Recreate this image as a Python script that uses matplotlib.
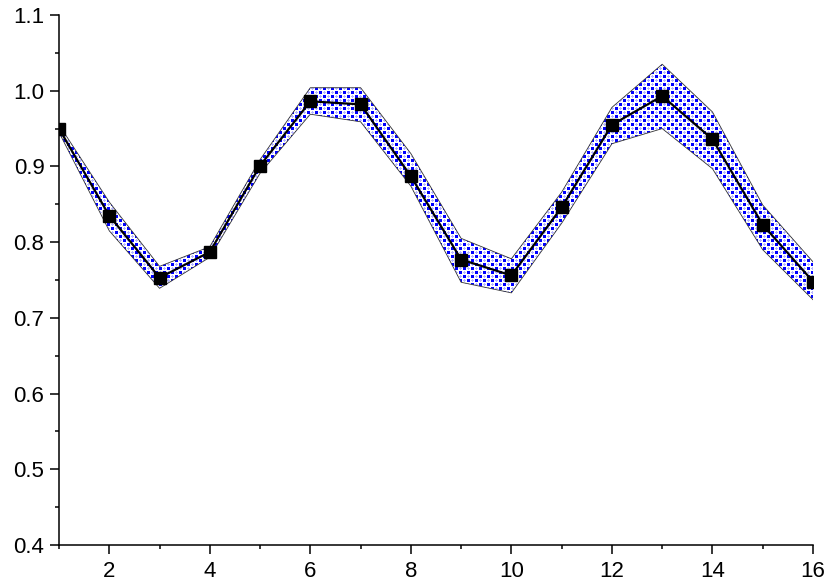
import numpy as np
import matplotlib
matplotlib.use("Agg")
import matplotlib.pyplot as plt
from matplotlib.ticker import MultipleLocator, FormatStrFormatter

plt.rcParams['font.family'] = ['Liberation Sans', 'DejaVu Sans']

# Dane
x = list(range(1, 17))
y = [0.950, 0.835, 0.753, 0.787, 0.901, 0.986, 0.982, 0.887,
     0.777, 0.756, 0.846, 0.955, 0.993, 0.936, 0.823, 0.748]
upper = [0.955, 0.853, 0.768, 0.794, 0.909, 1.004, 1.004, 0.917,
         0.805, 0.778, 0.866, 0.978, 1.035, 0.972, 0.849, 0.774]
lower = [0.945, 0.815, 0.739, 0.780, 0.891, 0.969, 0.959, 0.874,
         0.747, 0.733, 0.825, 0.930, 0.950, 0.897, 0.790, 0.724]

fig = plt.figure(figsize=(8.3, 5.87), dpi=100)
ax = fig.add_axes([0.0711, 0.0716, 0.9084, 0.9028])
ax.set_xlim(1, 16)
ax.set_ylim(0.4, 1.1)

# wzor wypelnienia (niebieskie kwadraty w szachownice + jasne krzyzyki)
W, H = 754, 530
tex = np.ones((H, W, 3))
yy, xx = np.mgrid[0:H, 0:W]
mx, my = xx % 8, yy % 8
blue = ((mx < 3) & (my < 3)) | ((mx >= 4) & (mx < 7) & (my >= 4) & (my < 7))
cx, cy = (xx + 4) % 8, yy % 8
cross = (((cx == 1) & (cy < 3)) | ((cy == 1) & (cx < 3)))
cx2, cy2 = xx % 8, (yy + 4) % 8
cross |= (((cx2 == 1) & (cy2 < 3)) | ((cy2 == 1) & (cx2 < 3)))
tex[cross] = (0.72, 0.72, 1.0)
tex[blue] = (0.0, 0.0, 1.0)

band = ax.fill_between(x, lower, upper, facecolor='none', edgecolor='none', zorder=1)
im = ax.imshow(tex, extent=(1, 16, 0.4, 1.1), aspect='auto',
               interpolation='nearest', zorder=1)
im.set_clip_path(band.get_paths()[0], transform=ax.transData)
ax.plot(x, upper, color='#333333', lw=0.6, zorder=2)
ax.plot(x, lower, color='#333333', lw=0.6, zorder=2)

# seria
ax.plot(x, y, color='black', lw=1.6, marker='s', markersize=8.5, zorder=3)

ax.set_xlim(1, 16)
ax.set_ylim(0.4, 1.1)
ax.xaxis.set_major_locator(MultipleLocator(2))
ax.xaxis.set_minor_locator(MultipleLocator(1))
ax.yaxis.set_major_locator(MultipleLocator(0.1))
ax.yaxis.set_minor_locator(MultipleLocator(0.05))
ax.yaxis.set_major_formatter(FormatStrFormatter('%.1f'))

for s in ['top', 'right']:
    ax.spines[s].set_visible(False)
for s in ['left', 'bottom']:
    ax.spines[s].set_linewidth(1.1)

ax.tick_params(which='major', direction='out', length=6.5, width=1.1)
ax.tick_params(which='minor', direction='out', length=3, width=1.1)
ax.tick_params(axis='x', which='major', pad=5)
ax.tick_params(axis='y', which='major', pad=4)
for lab in ax.get_xticklabels() + ax.get_yticklabels():
    lab.set_fontsize(16)

fig.savefig('out.png', dpi=100)
